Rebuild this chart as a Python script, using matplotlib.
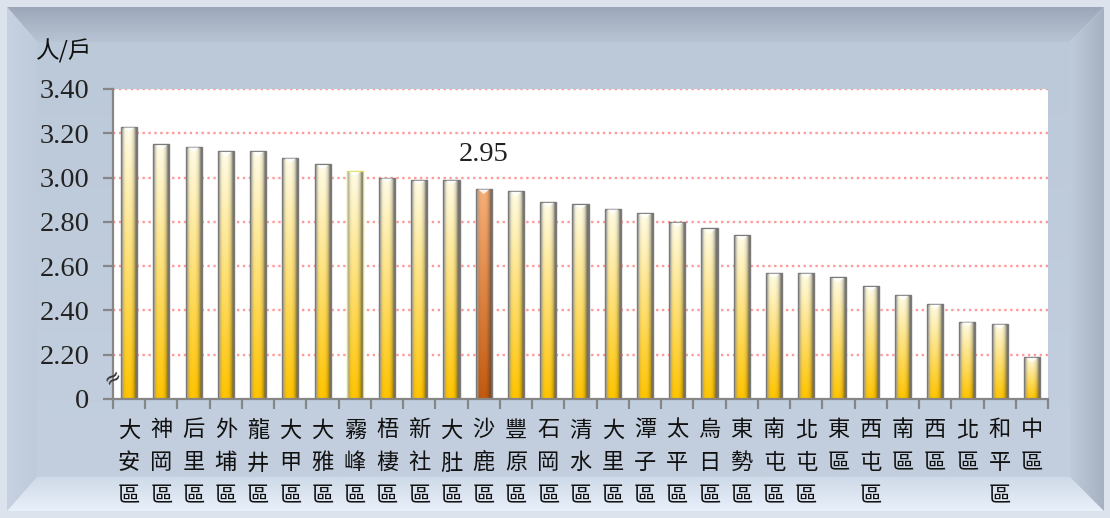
import numpy as np
import matplotlib
matplotlib.use("Agg")
import matplotlib.pyplot as plt
from matplotlib.patches import Polygon
from matplotlib.colors import to_rgb

# ---------------- data ----------------
districts = ["大安區", "神岡區", "后里區", "外埔區", "龍井區", "大甲區", "大雅區", "霧峰區",
             "梧棲區", "新社區", "大肚區", "沙鹿區", "豐原區", "石岡區", "清水區", "大里區",
             "潭子區", "太平區", "烏日區", "東勢區", "南屯區", "北屯區", "東區", "西屯區",
             "南區", "西區", "北區", "和平區", "中區"]
values = [3.23, 3.15, 3.14, 3.12, 3.12, 3.09, 3.06, 3.03,
          3.00, 2.99, 2.99, 2.95, 2.94, 2.89, 2.88, 2.86,
          2.84, 2.80, 2.77, 2.74, 2.57, 2.57, 2.55, 2.51,
          2.47, 2.43, 2.35, 2.34, 2.19]
highlight = "沙鹿區"
ytick_vals = [2.0, 2.2, 2.4, 2.6, 2.8, 3.0, 3.2, 3.4]
ytick_labels = ["0", "2.20", "2.40", "2.60", "2.80", "3.00", "3.20", "3.40"]
y_unit = "人/戶"

CJK = ["Noto Sans CJK TC", "DejaVu Sans"]
NUM = ["Liberation Serif", "DejaVu Serif"]

W, H = 1110, 518
fig = plt.figure(figsize=(W / 100, H / 100), dpi=100)
fig.patch.set_facecolor("#DCE3EC")

# ---------------- bevelled frame ----------------
bg = fig.add_axes([0, 0, 1, 1], zorder=-10)
bg.set_xlim(0, W)
bg.set_ylim(H, 0)
bg.axis("off")


def grad_poly(verts, c0, c1, vertical=True, zorder=0):
    verts = np.array(verts, float)
    x0, x1 = verts[:, 0].min(), verts[:, 0].max()
    y0, y1 = verts[:, 1].min(), verts[:, 1].max()
    a, b = np.array(to_rgb(c0)), np.array(to_rgb(c1))
    t = np.linspace(0, 1, 64)
    cols = a[None, :] * (1 - t[:, None]) + b[None, :] * t[:, None]
    if vertical:
        img = cols[:, None, :].repeat(2, axis=1)
    else:
        img = cols[None, :, :].repeat(2, axis=0)
    poly = Polygon(verts, closed=True, facecolor="none", edgecolor="none")
    bg.add_patch(poly)
    im = bg.imshow(img, extent=(x0, x1, y1, y0), aspect="auto",
                   interpolation="bilinear", zorder=zorder)
    im.set_clip_path(poly)


L, T, R, B = 7, 7, 1104, 511
l, t, r, b = 37, 42, 1070, 477
grad_poly([(L, T), (R, T), (r, t), (l, t)], "#9CA8B9", "#B8C4D4", True)
grad_poly([(l, b), (r, b), (R, B), (L, B)], "#CFDAE8", "#E8F0FA", True)
grad_poly([(L, T), (l, t), (l, b), (L, B)], "#C6D2E1", "#BFCBDA", False)
grad_poly([(l, t), (r, t), (r, b), (l, b)], "#BCC9D9", "#C3CFDE", True)
grad_poly([(R, T), (R, B), (r, b), (r, t)], "#BFCBDA", "#A6B2C2", False, zorder=1)

# ---------------- main axes ----------------
ax = fig.add_axes([113 / W, 1 - 399 / H, (1048 - 113) / W, (399 - 89) / H], zorder=1)
ax.set_facecolor("white")
n = len(values)
x = np.arange(n)

# grid lines
for yv in ytick_vals[1:]:
    ax.axhline(yv, color="#FF9A9A", lw=1.7, linestyle=(0, (1, 1.5)), zorder=1)

bars = ax.bar(x, np.array(values) - 2.0, bottom=2.0, width=0.5,
              facecolor="none", edgecolor="none", zorder=3)


def bar_image(top_c, bot_c, n_v=80, n_h=40):
    tc, bc = np.array(to_rgb(top_c)), np.array(to_rgb(bot_c))
    tv = np.linspace(0, 1, n_v)[:, None]
    base = tc[None, :] * (1 - tv) + bc[None, :] * tv
    h = np.linspace(-1, 1, n_h)
    prof = np.clip(1.0 - 0.55 * np.abs(h + 0.15) ** 3, 0, 1)
    edge = np.clip((np.abs(h) - 0.62) / 0.3, 0, 1)
    grey_l = np.array([0.66, 0.66, 0.66])
    grey_r = np.array([0.45, 0.45, 0.45])
    grey = np.where((h < 0)[:, None], grey_l[None, :], grey_r[None, :])
    img = base[:, None, :] * prof[None, :, None]
    img = img * (1 - edge[None, :, None]) + grey[None, :, :] * edge[None, :, None]
    return np.clip(img, 0, 1)


img_y = bar_image("#FFFCE6", "#FFC400")
img_o = bar_image("#F8B078", "#C25A10")
for xi, rect, name in zip(x, bars, districts):
    x0 = rect.get_x()
    x1 = x0 + rect.get_width()
    top = rect.get_y() + rect.get_height()
    img = img_o if name == highlight else img_y
    im = ax.imshow(img, extent=(x0, x1, 2.0, top), aspect="auto",
                   interpolation="bilinear", zorder=3)
    im.set_clip_path(rect)
    ec = "#DDDD55" if name == "霧峰區" else "#7A7A7A"
    ax.bar(xi, top - 2.0, bottom=2.0, width=0.5, facecolor="none",
           edgecolor=ec, lw=1.0, zorder=4)
    hw = (x1 - x0) / 2
    dy = 0.024
    tri = Polygon([(x0 + hw * 0.3, top - 0.004), (x1 - hw * 0.3, top - 0.004),
                   (xi, top - dy)], closed=True, facecolor="white", edgecolor="none",
                  alpha=0.85, zorder=5)
    ax.add_patch(tri)

ax.set_xlim(-0.5, n - 0.5)
ax.set_ylim(2.0, 3.4)

for s in ["top", "right"]:
    ax.spines[s].set_visible(False)
for s in ["left", "bottom"]:
    ax.spines[s].set_color("#868686")
    ax.spines[s].set_linewidth(1.6)
    ax.spines[s].set_zorder(6)

ax.set_yticks(ytick_vals)
ax.set_yticklabels(ytick_labels, fontfamily=NUM, fontsize=20.5, color="#222222")
ax.tick_params(axis="y", length=7, width=1.6, color="#868686", pad=10)

ax.set_xticks(np.arange(-0.5, n, 1.0))
ax.set_xticklabels([])
ax.tick_params(axis="x", which="major", length=7, width=1.6, color="#868686")
ax.set_xticks(x, minor=True)
ax.set_xticklabels(["\n".join(list(d)) for d in districts], minor=True,
                   fontfamily=CJK, fontsize=16, color="#111111",
                   linespacing=1.55, va="top")
ax.tick_params(axis="x", which="minor", length=0, pad=14)

ax.text(-0.5, 2.1, "≈", fontsize=15, ha="center", va="center", rotation=35,
        color="#333333", zorder=7, clip_on=False, transform=ax.transData)

hi = districts.index(highlight)
ax.text(hi, 3.105, f"{values[hi]:.2f}", ha="center", va="center",
        fontfamily=NUM, fontsize=20.5, color="#222222", zorder=7)

fig.text(64 / W, 1 - 51 / H, y_unit, ha="center", va="center",
         fontfamily=CJK, fontsize=17, color="#111111")

fig.savefig("out.png", dpi=100, facecolor=fig.get_facecolor())
